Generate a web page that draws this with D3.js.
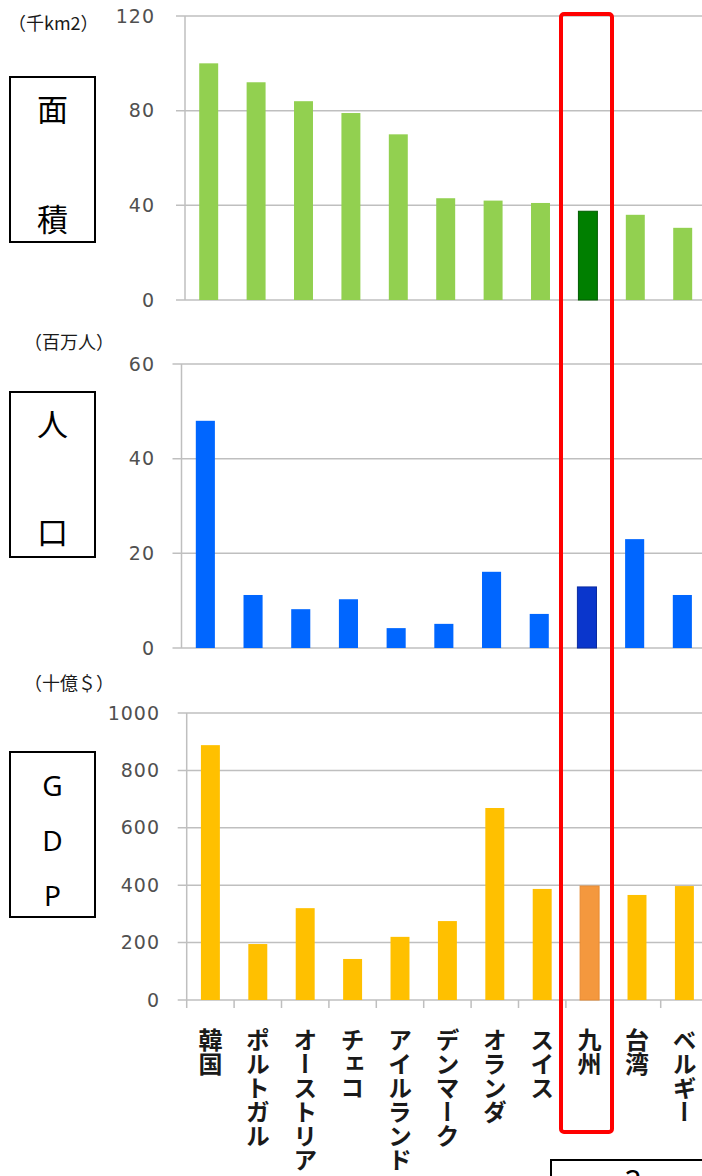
<!DOCTYPE html>
<html>
<head>
<meta charset="utf-8">
<script src="https://cdn.jsdelivr.net/npm/d3@7"></script>
<style>
  html, body { margin: 0; padding: 0; background: #ffffff; }
  svg { display: block; }
</style>
</head>
<body>
<svg id="chart" width="702" height="1176"></svg>
<script>
// Regions compared with 九州 (index 8 is highlighted)
const categories = ["韓国", "ポルトガル", "オーストリア", "チェコ", "アイルランド", "デンマーク", "オランダ", "スイス", "九州", "台湾", "ベルギー"];
const highlight = "九州";

// 面積 (千km2)
const areaValues = [100, 92, 84, 79, 70, 43, 42, 41, 37.5, 36, 30.5];
const areaTicks = [0, 40, 80, 120];

// 人口 (百万人)
const populationValues = [48, 11.2, 8.2, 10.3, 4.2, 5.1, 16.1, 7.2, 12.9, 23, 11.2];
const populationTicks = [0, 20, 40, 60];

// GDP (十億$)
const gdpValues = [888, 195, 320, 143, 220, 275, 669, 387, 397, 366, 397];
const gdpTicks = [0, 200, 400, 600, 800, 1000];

const svg = d3.select("#chart");
const gridColor = "#bfbfbf";
const tickFont = "'DejaVu Sans', 'Liberation Sans', sans-serif";
const jpFont = "'Noto Sans CJK JP', 'Noto Sans CJK SC', sans-serif";

const panels = [
  { values: areaValues, ticks: areaTicks, domainMax: 120,
    x0: 185, step: 47.4, yTop: 16, yBase: 300, labelRight: 155,
    color: "#92d050", hiColor: "#007f00", hiStroke: "#005c00",
    unit: "（千km2）", unitX: 8, unitY: 22,
    box: { y: 77, h: 165 }, boxText: [["面", 107], ["積", 217]], boxFont: jpFont, boxSize: 31 },
  { values: populationValues, ticks: populationTicks, domainMax: 60,
    x0: 181.5, step: 47.7, yTop: 364, yBase: 648, labelRight: 155,
    color: "#0066ff", hiColor: "#0a36cc", hiStroke: "#0a2aa0",
    unit: "（百万人）", unitX: 24, unitY: 341,
    box: { y: 392, h: 165 }, boxText: [["人", 422], ["口", 530]], boxFont: jpFont, boxSize: 31 },
  { values: gdpValues, ticks: gdpTicks, domainMax: 1000,
    x0: 186.7, step: 47.4, yTop: 713, yBase: 1000, labelRight: 160,
    color: "#ffc000", hiColor: "#f4983e", hiStroke: "#e88a30",
    unit: "（十億＄）", unitX: 24, unitY: 682, xTicks: true,
    box: { y: 752, h: 165 }, boxText: [["G", 785], ["D", 840], ["P", 895]], boxFont: "'Noto Sans', 'Open Sans', sans-serif", boxSize: 28 }
];

panels.forEach(p => {
  const g = svg.append("g");
  const x = d3.scaleBand()
    .domain(categories)
    .range([p.x0, p.x0 + p.step * categories.length])
    .paddingInner(0.6)
    .paddingOuter(0.3);
  const y = d3.scaleLinear().domain([0, p.domainMax]).range([p.yBase, p.yTop]);

  // horizontal gridlines with outward ticks
  g.selectAll("line.grid").data(p.ticks).join("line")
    .attr("class", "grid")
    .attr("x1", p.x0 - 9).attr("x2", 702)
    .attr("y1", d => y(d)).attr("y2", d => y(d))
    .attr("stroke", gridColor).attr("stroke-width", 1.5);

  // vertical axis line
  g.append("line")
    .attr("x1", p.x0).attr("x2", p.x0)
    .attr("y1", p.yTop).attr("y2", p.yBase)
    .attr("stroke", gridColor).attr("stroke-width", 1.5);

  // value axis labels
  const yAxis = d3.axisLeft(y).tickValues(p.ticks).tickFormat(d3.format("d")).tickSize(0).tickPadding(0);
  const ax = g.append("g").attr("transform", `translate(${p.labelRight},0)`).call(yAxis);
  ax.select(".domain").remove();
  ax.selectAll("text")
    .attr("font-family", tickFont)
    .attr("font-size", 19)
    .attr("letter-spacing", 1)
    .attr("fill", "#505050");

  // category boundary ticks on the bottom axis
  if (p.xTicks) {
    const bounds = d3.range(categories.length + 1).map(i => p.x0 + p.step * i);
    g.selectAll("line.xtick").data(bounds).join("line")
      .attr("class", "xtick")
      .attr("x1", d => d).attr("x2", d => d)
      .attr("y1", p.yBase).attr("y2", p.yBase + 8)
      .attr("stroke", gridColor).attr("stroke-width", 1.5);
  }

  // bars
  g.selectAll("rect.bar").data(categories.map((c, i) => ({ c, v: p.values[i] }))).join("rect")
    .attr("class", "bar")
    .attr("x", d => x(d.c))
    .attr("width", x.bandwidth())
    .attr("y", d => y(d.v))
    .attr("height", d => y(0) - y(d.v))
    .attr("fill", d => d.c === highlight ? p.hiColor : p.color)
    .attr("stroke", d => d.c === highlight ? p.hiStroke : "none")
    .attr("stroke-width", 1);

  // unit label
  svg.append("text")
    .attr("x", p.unitX).attr("y", p.unitY)
    .attr("dominant-baseline", "central")
    .attr("font-family", jpFont)
    .attr("font-size", 18)
    .attr("fill", "#1a1a1a")
    .text(p.unit);

  // side caption box
  svg.append("rect")
    .attr("x", 10).attr("y", p.box.y)
    .attr("width", 85).attr("height", p.box.h)
    .attr("fill", "#ffffff").attr("stroke", "#000000").attr("stroke-width", 2);
  svg.selectAll(null).data(p.boxText).join("text")
    .attr("x", 52.5).attr("y", d => d[1])
    .attr("text-anchor", "middle")
    .attr("dominant-baseline", "central")
    .attr("font-family", p.boxFont)
    .attr("font-size", p.boxSize)
    .attr("fill", "#000000")
    .text(d => d[0]);

  // vertical category labels under the last panel
  if (p.xTicks) {
    svg.selectAll("text.cat").data(categories).join("text")
      .attr("class", "cat")
      .attr("x", d => x(d) + x.bandwidth() / 2)
      .attr("y", 1028)
      .attr("writing-mode", "vertical-rl")
      .attr("font-family", jpFont)
      .attr("font-size", 24)
      .attr("font-weight", 700)
      .attr("fill", "#1a1a1a")
      .text(d => d);
  }
});

// frame around the 九州 column
svg.append("rect")
  .attr("x", 561).attr("y", 14)
  .attr("width", 51).attr("height", 1118)
  .attr("rx", 3)
  .attr("fill", "none")
  .attr("stroke", "#ff0000")
  .attr("stroke-width", 4);

// page number box
svg.append("rect")
  .attr("x", 551).attr("y", 1160)
  .attr("width", 200).attr("height", 60)
  .attr("fill", "#ffffff").attr("stroke", "#000000").attr("stroke-width", 2);
svg.append("text")
  .attr("x", 633).attr("y", 1192)
  .attr("text-anchor", "middle")
  .attr("font-family", "'Noto Sans', sans-serif")
  .attr("font-size", 30)
  .attr("fill", "#000000")
  .text("2");
</script>
</body>
</html>
